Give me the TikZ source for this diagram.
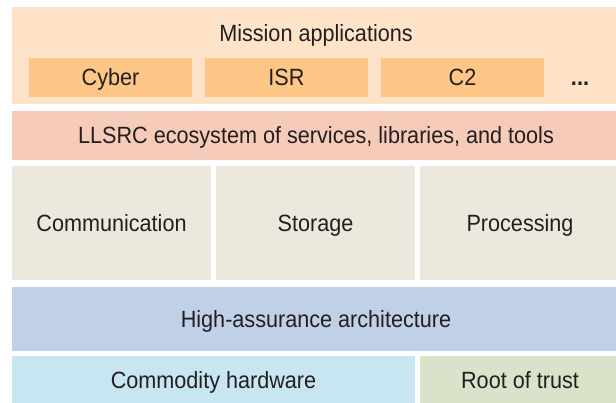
\documentclass[tikz,border=0pt]{standalone}
\usepackage{fontspec}
\setmainfont{Liberation Sans}[FakeStretch=0.92]
\definecolor{panelpeach}{HTML}{FEE3C9}
\definecolor{appbox}{HTML}{FDC687}
\definecolor{llsrc}{HTML}{F6CBBA}
\definecolor{midbox}{HTML}{EDE8DE}
\definecolor{habox}{HTML}{C0D1E7}
\definecolor{hwbox}{HTML}{C8E6F1}
\definecolor{rotbox}{HTML}{D9E3CA}
\definecolor{txt}{HTML}{231F20}
\tikzset{
  layer/.style={inner sep=0pt, outer sep=0pt, text=txt,
    font=\fontsize{23.5}{26}\selectfont, text height=16.8pt, text depth=0pt},
  lbl/.style={inner sep=0pt, text=txt,
    font=\fontsize{23.5}{26}\selectfont, text height=16.8pt, text depth=0pt}
}
\begin{document}
\begin{tikzpicture}[x=1pt,y=-1pt]
\useasboundingbox[fill=white] (0,0) rectangle (616,402);
% top panel
\node[layer, fill=panelpeach, minimum width=608pt, minimum height=97pt] (mission) at (316,55.5) {};
\node[lbl] (missionlbl) at (316,33.5) {Mission applications};
\node[layer, fill=appbox, minimum width=163pt, minimum height=39pt] (cyber) at (110.5,77.5) {Cyber};
\node[layer, fill=appbox, minimum width=163pt, minimum height=39pt] (isr) at (286.5,77.5) {ISR};
\node[layer, fill=appbox, minimum width=163pt, minimum height=39pt] (c2) at (462.5,77.5) {C2};
\node[lbl, anchor=base] (more) at (580,85) {\bfseries ...};
% ecosystem
\node[layer, fill=llsrc, minimum width=608pt, minimum height=48.5pt] (eco) at (316,135.25) {LLSRC ecosystem of services, libraries, and tools};
% middle
\node[layer, fill=midbox, minimum width=199pt, minimum height=114pt] (comm) at (111.5,223) {Communication};
\node[layer, fill=midbox, minimum width=199pt, minimum height=114pt] (stor) at (315.5,223) {Storage};
\node[layer, fill=midbox, minimum width=200pt, minimum height=114pt] (proc) at (520,223) {Processing};
% high assurance
\node[layer, fill=habox, minimum width=608pt, minimum height=63.5pt] (ha) at (316,318.75) {High-assurance architecture};
% bottom
\node[layer, fill=hwbox, minimum width=403pt, minimum height=48pt] (hw) at (213.5,380) {Commodity hardware};
\node[layer, fill=rotbox, minimum width=200pt, minimum height=48pt] (rot) at (520,380) {Root of trust};
\end{tikzpicture}
\end{document}
